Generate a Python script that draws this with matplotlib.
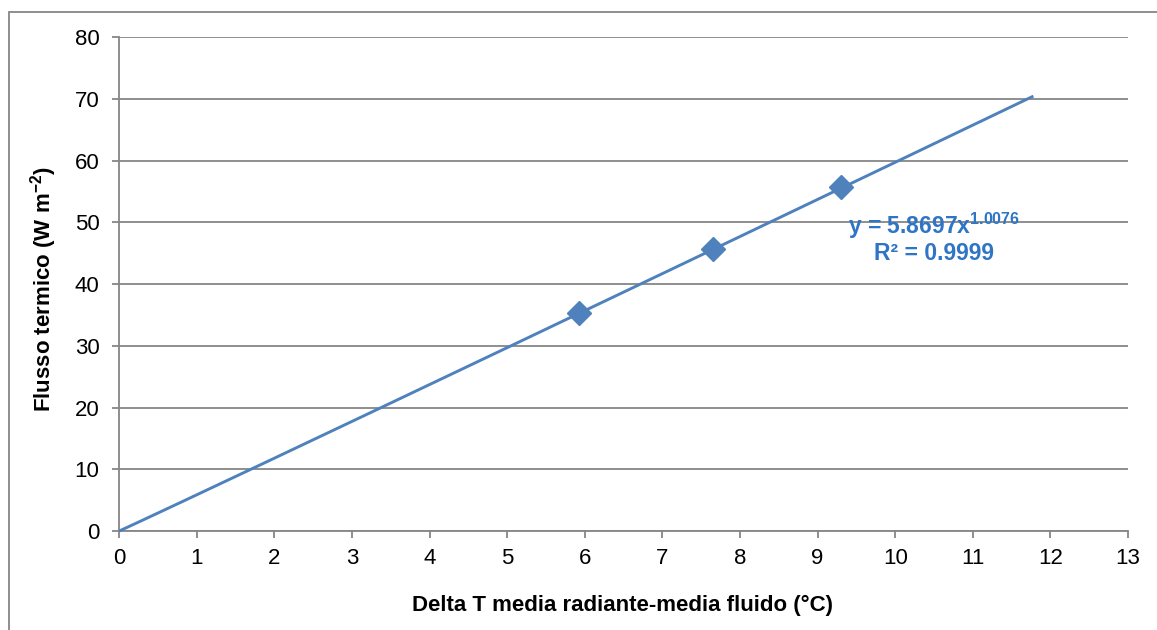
import numpy as np
import matplotlib
matplotlib.use('Agg')
import matplotlib.pyplot as plt
from matplotlib.patches import Rectangle

# ── Data ───────────────────────────────────────────────────────────────────────

delta_t = [5.93, 7.65, 9.30]          # °C
flusso = [35.4, 45.7, 55.7]           # W m-2

# power trendline as printed on the chart: y = a * x^b
coef_a = 5.8697
coef_b = 1.0076
trend_end = 11.78
r2 = 0.9999

x_ticks = list(range(0, 14))
y_ticks = list(range(0, 90, 10))

# ── Style ──────────────────────────────────────────────────────────────────────

BLUE = '#4F81BD'
TXT_BLUE = '#2E75C6'
GRID = '#868686'

plt.rcParams.update({
    'font.family': ['Liberation Sans', 'DejaVu Sans'],
    'mathtext.fontset': 'custom',
    'mathtext.rm': 'Liberation Sans',
    'mathtext.bf': 'Liberation Sans:bold',
    'mathtext.it': 'Liberation Sans:italic',
})

fig = plt.figure(figsize=(11.57, 6.30), dpi=100)
ax = fig.add_axes([0.1029, 0.157, 0.8721, 0.784])

# outer chart border (Excel chart area)
fig.patches.append(Rectangle((9 / 1157, -0.1), 1.2, 1 - 12 / 630 + 0.1,
                             transform=fig.transFigure, fill=False,
                             edgecolor=GRID, lw=1.3, zorder=0))

# trendline
xs = np.linspace(0, trend_end, 200)
ax.plot(xs, coef_a * xs ** coef_b, color=BLUE, lw=2.1, zorder=3,
        solid_capstyle='butt', clip_on=False)

# data points
ax.plot(delta_t, flusso, linestyle='none', marker='D', markersize=12,
        color=BLUE, zorder=4)

ax.text(0.808, 0.601, rf'y = {coef_a}x$^{{\mathbf{{{coef_b}}}}}$',
        transform=ax.transAxes, color=TXT_BLUE, fontsize=16.5,
        fontweight='bold', ha='center', va='baseline')
ax.text(0.808, 0.549, f'R² = {r2}', transform=ax.transAxes,
        color=TXT_BLUE, fontsize=16.5, fontweight='bold',
        ha='center', va='baseline')

ax.set_xlim(0, 13)
ax.set_ylim(0, 80)
ax.set_xticks(x_ticks)
ax.set_yticks(y_ticks)

ax.grid(True, axis='y', color=GRID, lw=1.3)
ax.set_axisbelow(True)
for side in ('top', 'right'):
    ax.spines[side].set_visible(False)
for side in ('left', 'bottom'):
    ax.spines[side].set_color(GRID)
    ax.spines[side].set_linewidth(1.3)

ax.tick_params(axis='both', colors=GRID, labelcolor='black', labelsize=16,
               length=5, width=1.3, direction='out')
ax.tick_params(axis='x', pad=7)
ax.tick_params(axis='y', pad=9)

fig.text(623 / 1157, 1 - 605 / 630,
         'Delta T media radiante-media fluido (°C)', fontsize=16,
         fontweight='bold', ha='center', va='center')
fig.text(44 / 1157, 1 - 289 / 630, r'Flusso termico (W m$^{\mathbf{-2}}$)',
         fontsize=16, fontweight='bold', rotation=90,
         ha='center', va='center')

fig.savefig('out.png', dpi=100)
